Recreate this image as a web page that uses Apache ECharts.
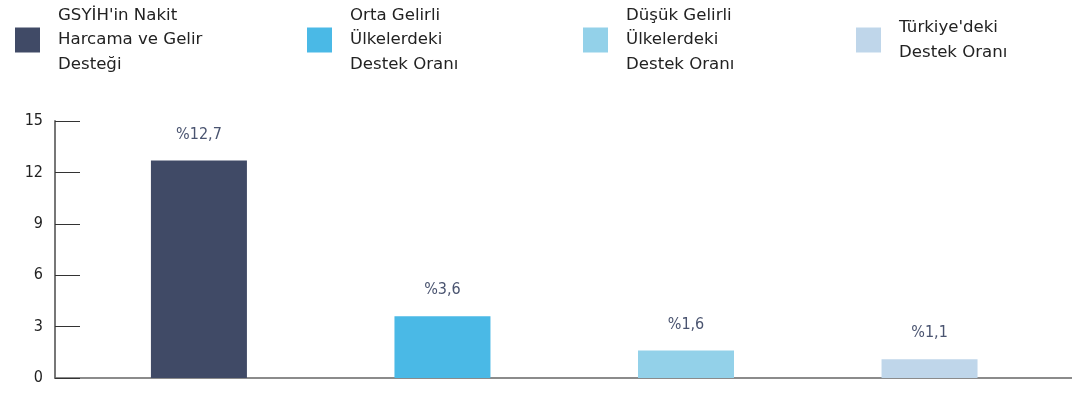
<!DOCTYPE html>
<html>
<head>
<meta charset="utf-8">
<script src="https://cdn.jsdelivr.net/npm/echarts@6/dist/echarts.min.js"></script>
<style>
  html, body { margin: 0; padding: 0; background: #fff; }
  #chart { width: 1072px; height: 393px; }
</style>
</head>
<body>
<div id="chart"></div>
<script>
// Series names (legend text) and their values
const seriesNames = [
  "GSYİH'in Nakit\nHarcama ve Gelir\nDesteği",
  "Orta Gelirli\nÜlkelerdeki\nDestek Oranı",
  "Düşük Gelirli\nÜlkelerdeki\nDestek Oranı",
  "Türkiye'deki\nDestek Oranı"
];
const values = [12.7, 3.6, 1.6, 1.1];
const colors = ['#404a66', '#4ab9e6', '#93d1e9', '#bfd6ea'];
const yTicks = [0, 3, 6, 9, 12, 15];

const FONT = '"DejaVu Sans Condensed", "DejaVu Sans", sans-serif';
const LEGEND_FONT = '"DejaVu Sans", sans-serif';
const legendLefts = [15, 307, 583, 856];
const LINE_H = 24.5;
const TEXT_SHIFT = 6;

const chart = echarts.init(document.getElementById('chart'), null, { renderer: 'canvas' });

const series = seriesNames.map((name, i) => ({
  name: name,
  type: 'bar',
  stack: 'all',
  barWidth: 96,
  itemStyle: { color: colors[i] },
  data: [[i, values[i]]],
  label: {
    show: true,
    position: 'top',
    distance: 18,
    color: '#4a5470',
    fontFamily: FONT,
    fontSize: 16,
    formatter: p => '%' + p.value[1].toFixed(1).replace('.', ',')
  }
}));

// one legend block per series, icons centred on the same line
const legends = seriesNames.map((name, i) => {
  const lines = name.split('\n').length;
  const boxH = lines * LINE_H + TEXT_SHIFT;
  return {
    data: [name],
    left: legendLefts[i],
    top: 40 - boxH / 2,
    padding: 0,
    orient: 'horizontal',
    itemWidth: 25,
    itemHeight: 25,
    icon: 'rect',
    selectedMode: false,
    textStyle: {
      color: '#222',
      fontFamily: LEGEND_FONT,
      fontSize: 16.6,
      lineHeight: LINE_H,
      padding: [TEXT_SHIFT, 0, 0, 13]
    }
  };
});

chart.setOption({
  animation: false,
  backgroundColor: '#fff',
  legend: legends,
  grid: { left: 55, right: 0, top: 121, bottom: 15, containLabel: false },
  xAxis: {
    type: 'value',
    min: -0.591,
    max: 3.585,
    axisLine: { show: true, onZero: false, lineStyle: { color: '#666', width: 1.5 } },
    axisTick: { show: false },
    axisLabel: { show: false },
    splitLine: { show: false }
  },
  yAxis: {
    type: 'value',
    min: yTicks[0],
    max: yTicks[yTicks.length - 1],
    interval: yTicks[1] - yTicks[0],
    axisLine: { show: true, onZero: false, lineStyle: { color: '#777', width: 2 } },
    axisTick: { show: true, inside: true, length: 25, lineStyle: { color: '#333', width: 1 } },
    axisLabel: { color: '#222', fontFamily: FONT, fontSize: 16, margin: 12, padding: [4, 0, 0, 0] },
    splitLine: { show: false }
  },
  series: series
});
</script>
</body>
</html>
